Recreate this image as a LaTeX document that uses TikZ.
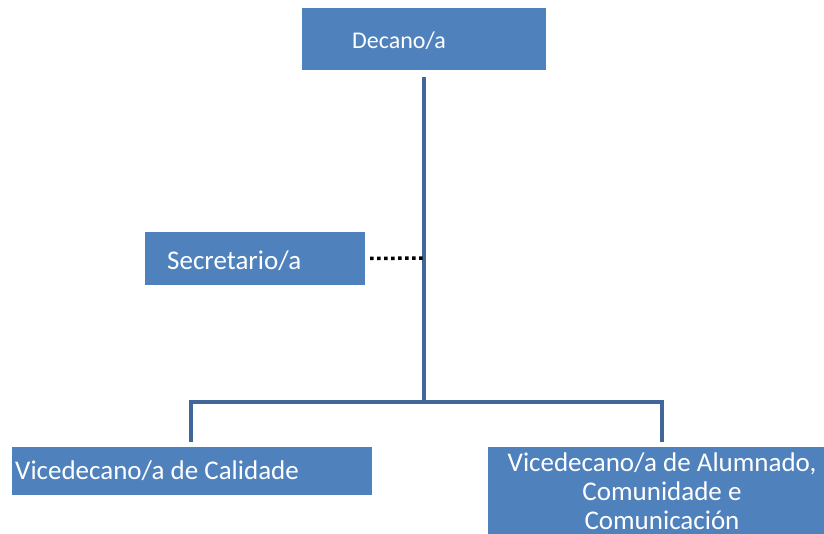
\documentclass[tikz,border=0pt]{standalone}
\usepackage{fontspec}
\setmainfont{Carlito}
\definecolor{boxblue}{HTML}{4F81BD}
\definecolor{lineblue}{HTML}{41679A}
\begin{document}
\begin{tikzpicture}[x=1pt,y=-1pt,
  orgbox/.style={fill=boxblue, draw=none, inner sep=0pt},
  lbl/.style={text=white, font=\fontsize{27}{29}\selectfont, inner sep=0pt},
  conn/.style={draw=lineblue, line width=3.5pt},
  dotconn/.style={draw=black, line width=3.5pt, dash pattern=on 3.5pt off 3.5pt}]
\useasboundingbox (0,0) rectangle (824,534);
% boxes
\node[orgbox, minimum width=244pt, minimum height=62pt] (dec) at (424,39) {};
\node[lbl, anchor=west, font=\fontsize{24}{28}\selectfont] (dect) at (352,41) {Decano/a};
\node[orgbox, minimum width=220pt, minimum height=53pt] (sec) at (255,258.5) {};
\node[lbl, anchor=west] (sect) at (167,261) {Secretario/a};
\node[orgbox, minimum width=360pt, minimum height=48pt] (cal) at (192,471) {};
\node[lbl, anchor=west] (calt) at (15,471) {Vicedecano/a de Calidade};
\node[orgbox, minimum width=336pt, minimum height=87pt, anchor=north west] (alu) at (488,447) {};
\node[lbl, align=center, anchor=north] (alut) at (662,453) {Vicedecano/a de Alumnado,\\Comunidade e\\Comunicación};
% connectors
\coordinate (top) at (424,77);
\coordinate (mid) at (424,402);
\coordinate (sj) at (424,258);
\coordinate (lj) at (191,402);
\coordinate (rj) at (662,402);
\coordinate (lb) at (191,442);
\coordinate (rb) at (662,442);
\draw[conn] (top) -- (mid);
\draw[conn] (lb) -- (lj) -- (rj) -- (rb);
\draw[dotconn] (sec.east) ++(5,0) coordinate (se) -- (sj);
\end{tikzpicture}
\end{document}
